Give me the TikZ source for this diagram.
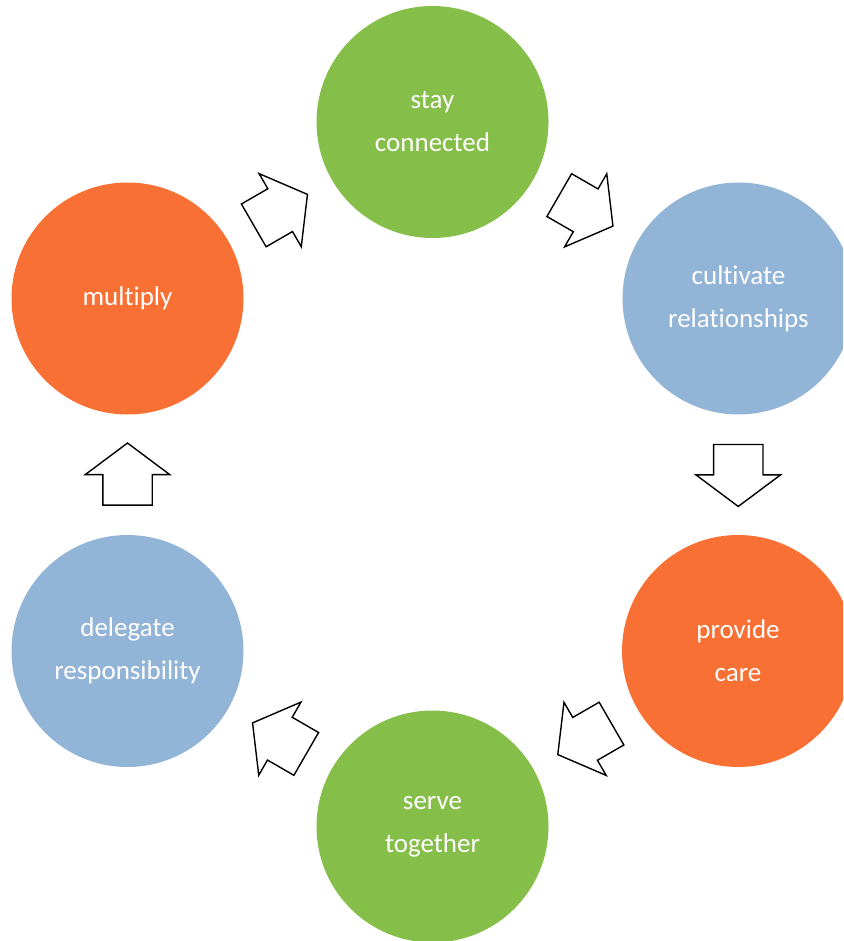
\documentclass[tikz,border=0pt]{standalone}
\usepackage{fontspec}
\setmainfont{Carlito}[Ligatures={NoCommon}]
\usetikzlibrary{shapes.arrows,calc}
\definecolor{corange}{HTML}{F97034}
\definecolor{cgreen}{HTML}{86BE4A}
\definecolor{cblue}{HTML}{92B4D6}
\tikzset{
  stage/.style={circle, minimum size=232pt, inner sep=0pt, text=white,
    align=center, font=\fontsize{27}{43}\selectfont},
  blockarrow/.style={single arrow, draw=black, fill=white, line width=1.4pt,
    minimum height=62pt, minimum width=83pt, inner xsep=0pt, inner ysep=24pt,
    single arrow head extend=17.5pt, single arrow tip angle=106.5,
    line join=miter, anchor=tail}
}
\begin{document}
\begin{tikzpicture}[x=1pt,y=-1pt]
\useasboundingbox (0,0) rectangle (843,941);
\clip (0,0) rectangle (843,941);
\node[stage, fill=cgreen]  (stay)     at (432.5,122) {stay\\connected};
\node[stage, fill=cblue]   (cultivate) at (738.5,298.5) {cultivate\\relationships};
\node[stage, fill=corange] (care)     at (738,651) {provide\\care};
\node[stage, fill=cgreen]  (serve)    at (432.5,826.5) {serve\\together};
\node[stage, fill=cblue]   (delegate) at (127.5,651) {delegate\\responsibility};
\node[stage, fill=corange] (multiply) at (127.5,298.5) {multiply};

\node[blockarrow, rotate=30]  (a1) at ($(multiply)!0.5!(stay)+(210:31pt)$) {};
\node[blockarrow, rotate=-30] (a2) at ($(stay)!0.5!(cultivate)+(150:31pt)$) {};
\node[blockarrow, rotate=-90] (a3) at ($(cultivate)!0.5!(care)+(90:31pt)$) {};
\node[blockarrow, rotate=210] (a4) at ($(care)!0.5!(serve)+(30:31pt)$) {};
\node[blockarrow, rotate=150] (a5) at ($(serve)!0.5!(delegate)+(-30:31pt)$) {};
\node[blockarrow, rotate=90]  (a6) at ($(delegate)!0.5!(multiply)+(-90:31pt)$) {};
\end{tikzpicture}
\end{document}
